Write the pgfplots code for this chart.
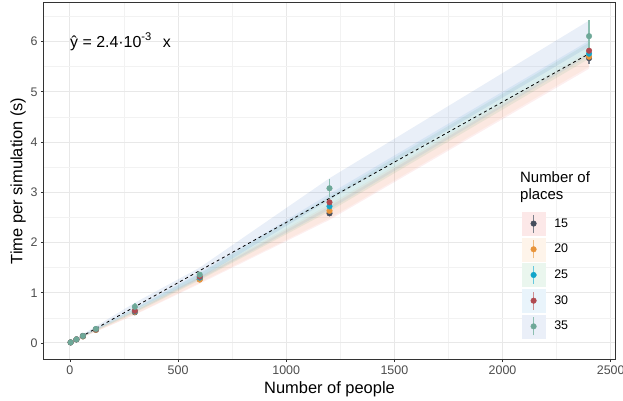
\documentclass[border=0pt]{standalone}
\usepackage{pgfplots}
\pgfplotsset{compat=1.18}
\usepackage{fontspec}
\setmainfont{Liberation Sans}
\definecolor{r15}{HTML}{E41A1C}
\definecolor{r20}{HTML}{F28E2B}
\definecolor{r25}{HTML}{2CA05A}
\definecolor{r30}{HTML}{1F8BD6}
\definecolor{r35}{HTML}{2A5FB8}
\definecolor{p15}{HTML}{454D5C}
\definecolor{p20}{HTML}{E8943A}
\definecolor{p25}{HTML}{12A5C9}
\definecolor{p30}{HTML}{B04A50}
\definecolor{p35}{HTML}{6EA898}
\definecolor{e15}{HTML}{7C818B}
\definecolor{e20}{HTML}{F0BA7E}
\definecolor{e25}{HTML}{66C9DE}
\definecolor{e30}{HTML}{CE8E91}
\definecolor{e35}{HTML}{8CBFB1}
\definecolor{g20}{HTML}{333333}
\definecolor{g30}{HTML}{4D4D4D}
\pgfplotsset{
  lkey/.style n args={3}{legend image code/.code={%
    \fill[#1!10] (0bp,-11.5bp) rectangle (23bp,11.5bp);
    \draw[#2, line width=1.5bp] (11.5bp,-9bp)--(11.5bp,9bp);
    \fill[#3] (11.5bp,0bp) circle (2.8bp);}},
  grp/.style n args={3}{#1, only marks, mark=*, mark size=2.8bp,
    error bars/.cd, y dir=both, y explicit, error mark=none,
    error bar style={#2, line width=1.5bp}},
}
\begin{document}
\begin{tikzpicture}
\begin{axis}[
  scale only axis, width=571bp, height=356bp,
  xmin=-120, xmax=2520, ymin=-0.32, ymax=6.77,
  xtick={0,500,1000,1500,2000,2500},
  ytick={0,1,2,3,4,5,6},
  minor xtick={250,750,1250,1750,2250},
  minor ytick={0.5,1.5,2.5,3.5,4.5,5.5,6.5},
  grid=both,
  major grid style={color=gray!18, line width=1bp},
  minor grid style={color=gray!10, line width=0.6bp},
  axis line style={g20, line width=1bp},
  tick align=outside, tick pos=left,
  major tick length=3bp, minor tick length=0pt,
  tick style={g20, line width=0.8bp},
  /pgf/number format/assume math mode=true,
  /pgf/number format/1000 sep={},
  scaled ticks=false,
  xticklabel style={font=\fontsize{12.5}{14}\selectfont, color=g30},
  yticklabel style={font=\fontsize{12.5}{14}\selectfont, color=g30},
  xlabel={Number of people},
  ylabel={Time per simulation (s)},
  xlabel style={font=\fontsize{16.5}{19}\selectfont, at={(axis description cs:0.5,-0.084)}, anchor=center},
  ylabel style={font=\fontsize{16.5}{19}\selectfont, at={(axis description cs:-0.0455,0.5)}, anchor=center},
  legend style={at={(0.8366,0.4138)}, anchor=north west, draw=none, fill=none,
    inner sep=0pt, row sep=2.3bp, font=\fontsize{12.5}{14}\selectfont,
    nodes={inner sep=0pt},
    /tikz/every odd column/.append style={column sep=9bp}},
  legend cell align=left,
  clip=false,
]
% ribbons
\addplot[draw=none, fill=r15, fill opacity=0.07, forget plot] coordinates {(0,0) (300,0.56) (600,1.18) (1200,2.45) (2400,5.46) (2400,5.76) (1200,2.72) (600,1.30) (300,0.64) (0,0.02)} -- cycle;
\addplot[draw=none, fill=r20, fill opacity=0.07, forget plot] coordinates {(0,0) (300,0.57) (600,1.20) (1200,2.48) (2400,5.50) (2400,5.80) (1200,2.76) (600,1.32) (300,0.65) (0,0.02)} -- cycle;
\addplot[draw=none, fill=r25, fill opacity=0.09, forget plot] coordinates {(0,0) (300,0.60) (600,1.25) (1200,2.62) (2400,5.66) (2400,5.98) (1200,2.92) (600,1.38) (300,0.68) (0,0.02)} -- cycle;
\addplot[draw=none, fill=r30, fill opacity=0.09, forget plot] coordinates {(0,0) (300,0.62) (600,1.27) (1200,2.66) (2400,5.72) (2400,6.02) (1200,2.97) (600,1.40) (300,0.70) (0,0.02)} -- cycle;
\addplot[draw=none, fill=r35, fill opacity=0.10, forget plot] coordinates {(0,0) (300,0.66) (600,1.29) (1200,2.85) (2400,5.90) (2400,6.42) (1200,3.28) (600,1.50) (300,0.80) (0,0.02)} -- cycle;
% fitted line
\addplot[black, line width=0.8bp, dash pattern=on 3bp off 3bp, forget plot] coordinates {(0,0) (2400,5.76)};
% points
\addplot[lkey={r15}{e15}{p15}, grp={p15}{e15}{p15}] coordinates {
(3,0.01) +- (0,0.005) (30,0.07) +- (0,0.005) (60,0.13) +- (0,0.005) (120,0.26) +- (0,0.01)
(300,0.61) +- (0,0.02) (600,1.27) +- (0,0.03) (1200,2.58) +- (0,0.04) (2400,5.67) +- (0,0.12)};
\addlegendentry{15}
\addplot[lkey={r20}{e20}{p20}, grp={p20}{e20}{p20}] coordinates {
(3,0.01) +- (0,0.005) (30,0.07) +- (0,0.005) (60,0.13) +- (0,0.005) (120,0.26) +- (0,0.01)
(300,0.62) +- (0,0.02) (600,1.26) +- (0,0.03) (1200,2.63) +- (0,0.04) (2400,5.70) +- (0,0.08)};
\addlegendentry{20}
\addplot[lkey={r25}{e25}{p25}, grp={p25}{e25}{p25}] coordinates {
(3,0.01) +- (0,0.005) (30,0.07) +- (0,0.005) (60,0.14) +- (0,0.005) (120,0.27) +- (0,0.01)
(300,0.63) +- (0,0.02) (600,1.30) +- (0,0.03) (1200,2.72) +- (0,0.04) (2400,5.76) +- (0,0.06)};
\addlegendentry{25}
\addplot[lkey={r30}{e30}{p30}, grp={p30}{e30}{p30}] coordinates {
(3,0.01) +- (0,0.005) (30,0.07) +- (0,0.005) (60,0.14) +- (0,0.005) (120,0.27) +- (0,0.01)
(300,0.64) +- (0,0.02) (600,1.32) +- (0,0.03) (1200,2.80) +- (0,0.05) (2400,5.82) +- (0,0.06)};
\addlegendentry{30}
\addplot[lkey={r35}{e35}{p35}, grp={p35}{e35}{p35}] coordinates {
(3,0.01) +- (0,0.005) (30,0.07) +- (0,0.005) (60,0.14) +- (0,0.01) (120,0.28) +- (0,0.02)
(300,0.72) +- (0,0.07) (600,1.36) +- (0,0.05) (1200,3.08) +- (0,0.18) (2400,6.11) +- (0,0.33)};
\addlegendentry{35}
% annotation and legend title
\node[anchor=west, inner sep=0pt, font=\fontsize{16}{19}\selectfont] at (axis cs:0,6) {ŷ = 2.4·10\textsuperscript{-3}\hspace{11bp}x};
\node[anchor=north west, inner sep=0pt, align=left, font=\fontsize{15}{18}\selectfont] at (rel axis cs:0.8336,0.528) {Number of\\places};
\end{axis}
\pgfresetboundingbox
\path (-44bp,-42bp) rectangle (579bp,359bp);
\end{tikzpicture}
\end{document}
